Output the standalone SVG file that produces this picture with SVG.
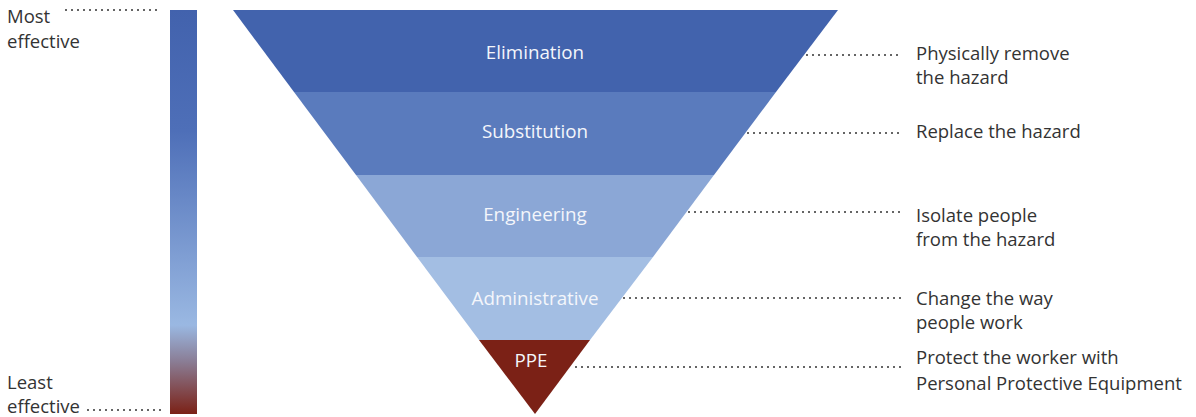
<svg xmlns="http://www.w3.org/2000/svg" width="1196" height="417" viewBox="0 0 1196 417">
<style>
.lbl{font-family:"Open Sans","Liberation Sans",sans-serif;font-size:18.8px;fill:#f4f6fb;text-anchor:middle}
.txt{font-family:"Open Sans","Liberation Sans",sans-serif;font-size:18.5px;fill:#333}
.dot{stroke:#333;stroke-width:1.6;stroke-dasharray:2 4;fill:none}
</style>
<defs>
<linearGradient id="bar" x1="0" y1="0" x2="0" y2="1">
<stop offset="0" stop-color="#4262ad"/>
<stop offset="0.3" stop-color="#4e6fb8"/>
<stop offset="0.78" stop-color="#9ab8e2"/>
<stop offset="0.87" stop-color="#8a7d95"/>
<stop offset="1" stop-color="#7b2116"/>
</linearGradient>
</defs>
<rect width="1196" height="417" fill="#fff"/>
<g id="scale">
<rect x="170" y="10" width="27" height="404" fill="url(#bar)"/>
<text class="txt" x="7" y="23">Most</text>
<text class="txt" x="7" y="48">effective</text>
<text class="txt" x="7" y="389">Least</text>
<text class="txt" x="7" y="413">effective</text>
</g>
<g id="elimination">
<polygon points="233,10 838,10 776,92 294,92" fill="#4263ad"/>
<text class="lbl" x="535" y="59">Elimination</text>
</g>
<g id="substitution">
<polygon points="294,92 776,92 714,175 356,175" fill="#5a7bbd"/>
<text class="lbl" x="535" y="138">Substitution</text>
</g>
<g id="engineering">
<polygon points="356,175 714,175 653,257 417,257" fill="#8ba7d6"/>
<text class="lbl" x="535" y="221">Engineering</text>
</g>
<g id="administrative">
<polygon points="417,257 653,257 590,340 479,340" fill="#a3bee3"/>
<text class="lbl" x="535" y="305">Administrative</text>
</g>
<g id="ppe">
<polygon points="479,340 590,340 535,414" fill="#7b2116"/>
<text class="lbl" x="531" y="367">PPE</text>
</g>
<g id="connectors">
<line class="dot" x1="65" y1="10" x2="158" y2="10"/>
<line class="dot" x1="87" y1="410" x2="163" y2="410"/>
<line class="dot" x1="806" y1="55" x2="902" y2="55"/>
<line class="dot" x1="747" y1="133" x2="902" y2="133"/>
<line class="dot" x1="688" y1="212" x2="902" y2="212"/>
<line class="dot" x1="623" y1="298" x2="902" y2="298"/>
<line class="dot" x1="575" y1="367" x2="902" y2="367"/>
</g>
<g id="descriptions">
<text class="txt" x="916" y="60">Physically remove</text>
<text class="txt" x="916" y="84">the hazard</text>
<text class="txt" x="916" y="138">Replace the hazard</text>
<text class="txt" x="916" y="222">Isolate people</text>
<text class="txt" x="916" y="246">from the hazard</text>
<text class="txt" x="916" y="305">Change the way</text>
<text class="txt" x="916" y="329">people work</text>
<text class="txt" x="916" y="364">Protect the worker with</text>
<text class="txt" x="916" y="390">Personal Protective Equipment</text>
</g>
</svg>
